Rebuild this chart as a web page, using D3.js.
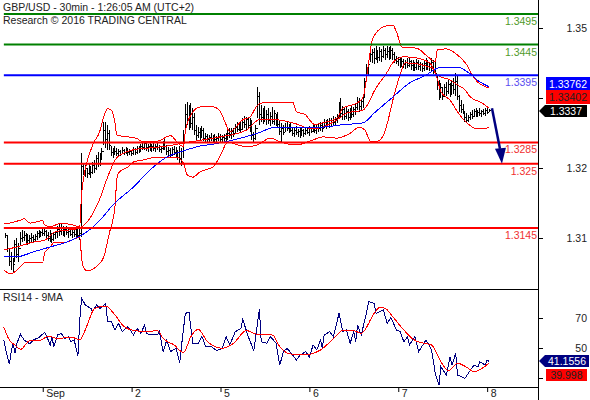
<!DOCTYPE html>
<html>
<head>
<meta charset="utf-8">
<style>
  html, body { margin: 0; padding: 0; background: #fff; }
  text { font-family: "Liberation Sans", Arial, sans-serif; font-size: 10.5px; fill: #222; }
</style>
</head>
<body>
<svg id="chart"></svg>
<script src="https://cdn.jsdelivr.net/npm/d3@7"></script>
<script>
// prices below are in 1/10000 units, one entry per 30min bar
const barHighs = [
  13137,13132,13112,13106,13096,13125,13129,13121,13139,13142,13140,13137,13135,13134,13137,13134,13135,13140,13142,13140,13143,
  13143,13142,13139,13142,13137,13139,13140,13148,13152,13152,13148,13147,13148,13145,13145,13143,13145,13143,13147,13143,13268,
  13251,13248,13243,13251,13246,13253,13256,13264,13269,13268,13276,13318,13318,13314,13305,13279,13276,13279,13276,13274,13273,
  13278,13274,13278,13276,13274,13273,13278,13276,13279,13279,13282,13286,13287,13284,13282,13286,13282,13284,13282,13287,13281,
  13279,13287,13291,13281,13278,13276,13278,13279,13278,13273,13279,13276,13305,13348,13351,13346,13350,13341,13333,13314,13310,
  13309,13312,13309,13300,13299,13297,13300,13297,13299,13296,13300,13299,13297,13299,13300,13307,13309,13309,13309,13315,13318,
  13317,13318,13325,13328,13327,13325,13325,13322,13302,13314,13376,13368,13346,13341,13345,13338,13341,13335,13343,13338,13331,
  13335,13322,13317,13314,13317,13318,13315,13318,13310,13309,13312,13307,13309,13310,13307,13309,13310,13312,13310,13315,13314,
  13314,13315,13318,13318,13323,13322,13323,13325,13325,13328,13327,13331,13351,13358,13345,13341,13343,13340,13341,13345,13343,
  13348,13359,13358,13356,13361,13390,13413,13417,13441,13438,13439,13443,13436,13441,13438,13443,13439,13443,13441,13443,13439,
  13433,13426,13425,13425,13423,13422,13420,13423,13423,13420,13420,13417,13422,13420,13417,13415,13420,13423,13420,13417,13423,
  13420,13417,13395,13387,13382,13374,13381,13384,13387,13382,13387,13390,13399,13394,13363,13354,13348,13335,13333,13330,13335,
  13338,13340,13341,13338,13341,13338,13340,13341,13341,13340
];
const barLows = [
  13129,13106,13083,13076,13071,13089,13096,13089,13116,13122,13124,13121,13117,13119,13121,13122,13124,13125,13129,13130,13132,
  13132,13129,13124,13122,13121,13124,13127,13129,13132,13134,13132,13130,13134,13129,13132,13129,13130,13127,13129,13125,13130,
  13232,13228,13227,13232,13227,13233,13235,13240,13245,13246,13256,13281,13276,13273,13273,13263,13260,13264,13263,13263,13263,
  13266,13264,13266,13263,13264,13263,13264,13264,13266,13268,13269,13273,13273,13271,13269,13271,13269,13271,13269,13273,13269,
  13268,13273,13273,13264,13263,13260,13263,13264,13260,13256,13251,13246,13260,13309,13314,13305,13309,13305,13297,13289,13292,
  13287,13292,13287,13286,13286,13286,13287,13284,13286,13286,13287,13284,13286,13286,13286,13289,13292,13291,13294,13299,13302,
  13304,13300,13305,13309,13305,13307,13302,13289,13286,13289,13325,13314,13318,13315,13318,13314,13315,13312,13315,13314,13312,
  13309,13297,13286,13297,13302,13304,13300,13302,13296,13294,13297,13294,13292,13296,13294,13297,13299,13296,13300,13302,13300,
  13299,13302,13304,13302,13309,13307,13310,13309,13312,13314,13314,13317,13325,13325,13322,13322,13323,13320,13322,13325,13327,
  13330,13338,13335,13338,13341,13359,13387,13394,13417,13415,13413,13420,13415,13418,13417,13423,13420,13423,13420,13422,13420,
  13415,13413,13410,13407,13408,13407,13405,13407,13408,13403,13402,13402,13403,13403,13402,13400,13402,13403,13403,13402,13400,
  13397,13394,13371,13354,13358,13354,13363,13361,13364,13359,13363,13364,13361,13354,13335,13333,13331,13318,13317,13318,13322,
  13323,13327,13327,13327,13328,13327,13330,13328,13331,13335
];
const barCloses = [
  13133,13112,13090,13098,13085,13118,13102,13112,13128,13130,13132,13126,13124,13128,13130,13126,13131,13136,13133,13137,13136,
  13139,13133,13128,13135,13127,13134,13137,13143,13140,13146,13137,13142,13138,13140,13135,13138,13134,13139,13133,13136,13245,
  13238,13242,13234,13245,13236,13248,13243,13258,13250,13262,13270,13305,13290,13300,13280,13268,13272,13270,13267,13270,13266,
  13272,13268,13274,13268,13270,13267,13273,13269,13275,13272,13278,13277,13283,13276,13279,13276,13278,13275,13279,13277,13274,
  13275,13282,13278,13270,13272,13266,13274,13268,13265,13268,13258,13270,13295,13330,13322,13335,13316,13325,13305,13296,13302,
  13295,13305,13292,13295,13290,13293,13291,13294,13289,13292,13294,13290,13293,13291,13296,13300,13298,13303,13300,13310,13306,
  13312,13306,13318,13314,13322,13312,13318,13296,13292,13308,13360,13330,13325,13333,13322,13330,13321,13328,13320,13332,13318,
  13315,13303,13308,13301,13310,13308,13311,13305,13300,13305,13301,13303,13298,13305,13299,13304,13302,13307,13303,13310,13305,
  13309,13307,13313,13308,13318,13312,13319,13316,13321,13318,13323,13326,13340,13332,13338,13328,13336,13326,13335,13331,13338,
  13342,13350,13344,13352,13358,13384,13405,13412,13428,13432,13422,13435,13424,13433,13425,13436,13428,13434,13426,13436,13428,
  13420,13418,13420,13414,13418,13412,13416,13411,13417,13410,13414,13408,13415,13409,13412,13406,13414,13410,13416,13407,13416,
  13405,13398,13380,13362,13374,13360,13375,13368,13380,13368,13378,13372,13385,13360,13345,13338,13335,13325,13321,13326,13330,
  13328,13335,13331,13334,13332,13335,13333,13337,13334,13337
];

// [bar, price] samples of the 20 period bands and the long moving average
const bandUpper = [[-1,13152],[2,13153],[8,13158],[10,13160],[13,13153],[20,13157],[21,13150],[24,13147],[30,13153],[36,13150],[40,13147],[41,13202],[47,13281],[51,13305],[52,13317],[55,13340],[57,13338],[59,13317],[60,13297],[66,13294],[71,13291],[74,13286],[82,13287],[89,13296],[93,13284],[96,13278],[97,13302],[100,13330],[105,13343],[112,13343],[116,13335],[119,13314],[121,13302],[128,13322],[132,13327],[136,13346],[139,13350],[146,13351],[155,13351],[157,13335],[162,13330],[164,13322],[167,13314],[171,13317],[179,13325],[182,13341],[190,13350],[193,13359],[196,13415],[198,13453],[204,13474],[209,13477],[211,13466],[214,13441],[222,13439],[228,13425],[232,13417],[233,13436],[238,13438],[244,13428],[249,13412],[253,13390],[261,13374]];
const bandMiddle = [[-1,13109],[6,13114],[15,13122],[21,13125],[27,13139],[35,13142],[40,13145],[51,13194],[55,13228],[60,13260],[69,13273],[78,13276],[87,13279],[96,13284],[112,13292],[130,13305],[137,13322],[146,13322],[155,13317],[166,13307],[179,13322],[184,13333],[193,13338],[200,13374],[206,13400],[209,13415],[215,13425],[222,13423],[229,13415],[233,13395],[240,13387],[244,13379],[248,13371],[251,13359],[257,13350],[261,13341]];
const bandLower = [[-1,13076],[3,13070],[6,13076],[11,13089],[20,13089],[21,13104],[24,13114],[26,13121],[33,13122],[40,13130],[41,13096],[42,13081],[44,13075],[50,13085],[53,13098],[56,13137],[59,13179],[60,13224],[61,13235],[66,13245],[69,13253],[74,13256],[82,13261],[92,13261],[96,13251],[98,13232],[101,13228],[105,13237],[112,13245],[116,13264],[120,13286],[125,13281],[130,13278],[136,13281],[143,13292],[148,13286],[157,13281],[166,13289],[171,13294],[179,13292],[186,13300],[191,13310],[194,13305],[197,13287],[201,13287],[204,13297],[211,13376],[216,13415],[230,13407],[233,13390],[235,13368],[240,13354],[244,13335],[249,13317],[255,13307],[261,13309]];
const longMa = [[-1,13098],[6,13098],[15,13106],[24,13114],[33,13122],[39,13130],[44,13139],[51,13158],[58,13183],[69,13212],[78,13240],[87,13261],[94,13269],[105,13279],[112,13282],[127,13292],[136,13300],[146,13310],[157,13309],[171,13310],[182,13314],[193,13317],[199,13333],[209,13359],[218,13382],[227,13395],[234,13407],[244,13408],[250,13399],[256,13384],[261,13376]];

const levelValues = [1.3495, 1.3445, 1.3395, 1.3285, 1.325, 1.3145];
const levelLabels = ['1.3495', '1.3445', '1.3395', '1.3285', '1.325', '1.3145'];
const levelColors = ['#008000', '#008000', '#0000ff', '#ff0000', '#ff0000', '#ff0000'];
const labelColors = ['#4f9a2a', '#4f9a2a', '#5a4df0', '#f03030', '#f03030', '#f03030'];

const priceTicks = ['1.35', '1.33', '1.32', '1.31'];
const rsiTicks = [70, 50, 30];
const dayTicks = [20, 68, 116, 164, 212, 260];
const dayLabels = ['Sep', '2', '5', '6', '7', '8'];

// [bar, rsi] samples
const rsiLine = [[-1,55.3],[0,48.7],[2,39.3],[3,47.6],[4,53.1],[5,46.4],[6,53.1],[8,59.1],[10,55.3],[13,52.7],[15,55.3],[18,57.1],[21,60.4],[23,55.3],[24,52],[25,57.1],[26,50.9],[28,58.7],[30,59.8],[32,56.4],[34,57.6],[35,54.2],[37,55.3],[39,44.7],[40,68.7],[41,83.1],[43,78.7],[46,76.4],[47,74.2],[49,78.7],[51,76.4],[54,79.8],[55,67.6],[57,67.6],[59,62],[61,66.4],[63,60.9],[66,64.2],[69,58.7],[71,63.1],[73,59.8],[75,65.3],[76,59.8],[78,58.7],[82,58.7],[83,60.9],[85,47.6],[87,55.3],[89,47.6],[92,49.8],[94,40.2],[95,52],[97,73.1],[99,73.8],[101,53.1],[104,53.1],[106,57.6],[108,50.9],[111,50.9],[114,48.2],[117,49.8],[119,57.6],[121,52],[124,60.9],[127,63.1],[128,69.1],[131,57.6],[134,48.2],[135,57.6],[137,75.8],[138,54.2],[141,53.1],[143,57.6],[146,53.1],[148,38.7],[150,47.6],[152,49.8],[155,45.3],[157,42],[159,45.3],[162,47.6],[164,43.8],[166,52],[168,48.7],[170,55.3],[171,49.8],[172,58.7],[175,60.9],[177,57.6],[180,73.1],[182,60.9],[184,62],[186,53.1],[188,60.9],[189,54.2],[190,65.3],[192,58.7],[195,74.2],[196,80.9],[199,79.8],[200,73.1],[204,75.3],[206,66.4],[208,70.4],[211,62],[213,60.9],[215,54.2],[217,57.6],[218,52],[221,57.6],[223,47.6],[227,55.3],[230,48.7],[232,33.1],[234,25.3],[235,37.5],[238,32],[240,44.2],[241,38.6],[243,46.4],[244,32],[248,29.8],[251,35.3],[253,38.6],[255,37.5],[256,40.9],[259,38.6],[260,42],[261,41.16]];
const rsiMa = [[-1,63.8],[2,55.3],[5,52],[8,49.1],[13,54.9],[19,55.3],[23,58],[28,56.4],[36,57.1],[40,55.3],[44,65.3],[48,76.4],[54,78],[59,72],[64,64.2],[68,62],[76,60.9],[82,61.6],[85,56.4],[91,52],[96,46.9],[100,57.6],[104,62.4],[109,54.2],[117,49.8],[123,53.1],[130,61.6],[137,58.7],[144,58.7],[148,50.9],[154,46],[159,46],[161,45.3],[170,48.7],[179,58.7],[182,62],[188,61.6],[192,59.8],[199,73.1],[202,77.1],[205,76.4],[209,70.9],[215,62],[220,55.8],[226,53.1],[230,52],[235,40.9],[239,34.9],[244,39.8],[249,37.1],[253,34.2],[261,40]];

const arrowFrom = [262.6, 13341];
const arrowTo = [268, 13250];

const width = 590;
const height = 400;
const axisX = 538;
const panelTop = 289;
const panelBottom = 387;

const svg = d3.select('#chart').attr('width', width).attr('height', height).style('display', 'block');

const x = d3.scaleLinear().domain([0, 261]).range([5.7, 489]);
const y = d3.scaleLinear().domain([1.3495, 1.3145]).range([14, 228]);
const pip = v => y(v / 10000);
const priceAxisScale = d3.scalePoint().domain(priceTicks).range([28, 238]);
const rsiY = d3.scaleLinear().domain([30, 70]).range([378, 318]);

const bandLine = d3.line().x(d => x(d[0])).y(d => pip(d[1])).curve(d3.curveMonotoneX);
const rsiPath = d3.line().x(d => x(d[0])).y(d => rsiY(d[1]));

// ohlc bars: high-low stem, close tick right, open (previous close) tick left
const bars = svg.append('g').attr('shape-rendering', 'crispEdges').attr('stroke', '#000').attr('stroke-width', 1);
bars.selectAll('line.stem').data(barHighs).join('line').attr('class', 'stem')
  .attr('x1', (d, i) => x(i)).attr('x2', (d, i) => x(i))
  .attr('y1', d => pip(d)).attr('y2', (d, i) => pip(barLows[i]));
bars.selectAll('line.close').data(barCloses).join('line').attr('class', 'close')
  .attr('x1', (d, i) => x(i)).attr('x2', (d, i) => x(i) + 1.5)
  .attr('y1', d => pip(d)).attr('y2', d => pip(d));
bars.selectAll('line.open').data(barCloses.slice(0, -1)).join('line').attr('class', 'open')
  .attr('x1', (d, i) => x(i + 1) - 1.5).attr('x2', (d, i) => x(i + 1))
  .attr('y1', d => pip(d)).attr('y2', d => pip(d));

// bands
[bandUpper, bandMiddle, bandLower].forEach(band => {
  svg.append('path').datum(band).attr('fill', 'none').attr('stroke', '#ff0000').attr('stroke-width', 1)
    .attr('shape-rendering', 'crispEdges').attr('d', bandLine);
});
svg.append('path').datum(longMa).attr('fill', 'none').attr('stroke', '#0000ff').attr('stroke-width', 1)
  .attr('shape-rendering', 'crispEdges').attr('d', bandLine);

// support and resistance levels
svg.append('g').selectAll('line').data(levelValues).join('line')
  .attr('x1', x(-1)).attr('x2', axisX)
  .attr('y1', d => y(d)).attr('y2', d => y(d))
  .attr('stroke', (d, i) => levelColors[i]).attr('stroke-width', 2);
svg.append('g').selectAll('text').data(levelValues).join('text')
  .attr('x', axisX - 1).attr('y', d => y(d) + 11)
  .attr('text-anchor', 'end')
  .style('fill', (d, i) => labelColors[i])
  .text((d, i) => levelLabels[i]);

// forecast arrow
const tipX = x(arrowTo[0]);
const tipY = pip(arrowTo[1]);
const baseY = tipY - 15;
svg.append('line')
  .attr('x1', x(arrowFrom[0])).attr('y1', pip(arrowFrom[1]))
  .attr('x2', tipX - 2).attr('y2', baseY)
  .attr('stroke', '#000080').attr('stroke-width', 2.5);
svg.append('path')
  .attr('d', `M${tipX - 7},${baseY}L${tipX + 4},${baseY - 1}L${tipX},${tipY}Z`)
  .attr('fill', '#000080');

// rsi panel
svg.append('path').datum(rsiLine).attr('fill', 'none').attr('stroke', '#000080').attr('stroke-width', 1)
  .attr('shape-rendering', 'crispEdges').attr('d', rsiPath);
svg.append('path').datum(rsiMa).attr('fill', 'none').attr('stroke', '#ff0000').attr('stroke-width', 1)
  .attr('shape-rendering', 'crispEdges').attr('d', rsiPath.curve(d3.curveMonotoneX));

// frame
svg.append('g').attr('shape-rendering', 'crispEdges').call(g => {
  g.append('line').attr('x1', 0).attr('x2', axisX).attr('y1', panelTop).attr('y2', panelTop).attr('stroke', '#000');
  g.append('line').attr('x1', 0).attr('x2', axisX).attr('y1', panelBottom).attr('y2', panelBottom).attr('stroke', '#000');
  g.append('line').attr('x1', axisX).attr('x2', axisX).attr('y1', 0).attr('y2', height).attr('stroke', '#000');
});

// axes
const styleAxis = g => {
  g.select('.domain').remove();
  g.selectAll('.tick line').attr('stroke', '#000');
  g.selectAll('.tick text').attr('text-anchor', 'end').attr('x', 49).style('fill', '#222');
};
svg.append('g').attr('transform', `translate(${axisX},0)`)
  .call(d3.axisRight(priceAxisScale).tickSize(5).tickFormat(d => d === '1.33' ? '' : d))
  .call(styleAxis);
svg.append('g').attr('transform', `translate(${axisX},0)`)
  .call(d3.axisRight(rsiY).tickValues(rsiTicks).tickSize(5).tickFormat(d => d === 30 ? '' : d))
  .call(styleAxis);
svg.append('g').attr('transform', `translate(0,${panelBottom})`)
  .call(d3.axisBottom(x).tickValues(dayTicks).tickSize(5).tickFormat((d, i) => dayLabels[i]))
  .call(g => {
    g.select('.domain').remove();
    g.selectAll('.tick line').attr('stroke', '#000');
    g.selectAll('.tick text').attr('text-anchor', 'start').attr('x', 3).attr('y', 3).style('fill', '#222');
  });

// price tags on the right
const tag = (x0, x1, top, bottom, color, textColor, label, pointer) => {
  const d = pointer
    ? `M${axisX + 1},${(top + bottom) / 2}L${x0},${top}H${x1}V${bottom}H${x0}Z`
    : `M${x0},${top}H${x1}V${bottom}H${x0}Z`;
  svg.append('path').attr('d', d).attr('fill', color);
  svg.append('text').attr('x', (x0 + x1) / 2).attr('y', (top + bottom) / 2 + 4)
    .attr('text-anchor', 'middle').style('fill', textColor).text(label);
};
tag(546, 590, 77, 90, '#0000ff', '#fff', '1.33762');
tag(546, 590, 90, 104, '#ff0000', '#222', '1.33402');
tag(545, 587, 105, 117, '#000', '#fff', '1.3337', true);
tag(545, 589, 355, 367, '#000080', '#fff', '41.1556', true);
tag(546, 587, 369, 381, '#ff0000', '#222', '39.998');

// titles
svg.append('text').attr('x', 3).attr('y', 11).text('GBP/USD - 30min - 1:26:05 AM (UTC+2)');
svg.append('text').attr('x', 3).attr('y', 24).text('Research © 2016 TRADING CENTRAL');
svg.append('text').attr('x', 3).attr('y', 301).text('RSI14 - 9MA');
</script>
</body>
</html>
